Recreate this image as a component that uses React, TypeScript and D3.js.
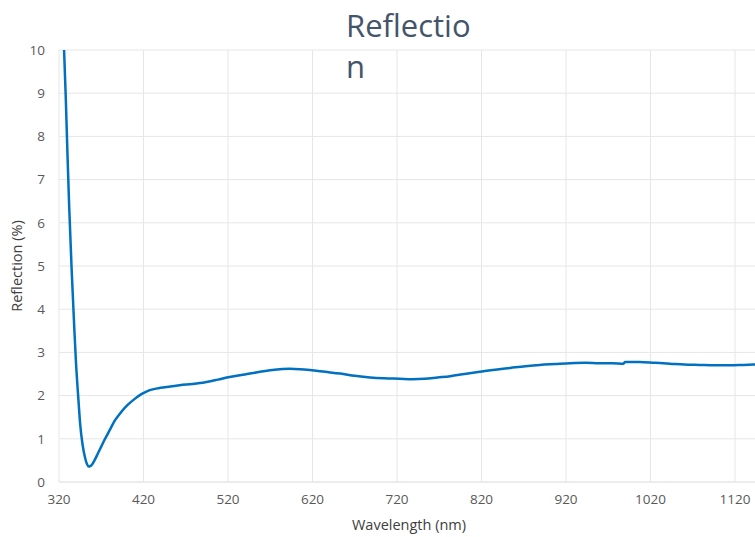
import React, { useEffect, useRef } from 'react';
import * as d3 from 'd3';

// wavelength (nm) and reflection (%)
const wavelengths = [326, 328, 330, 332, 335, 338, 340, 343, 345, 348, 351, 353, 355, 357, 359, 362, 366, 370, 374, 380, 386, 392, 400, 410, 418, 424, 432, 440, 452, 463, 478, 493, 508, 522, 540, 558, 575, 593, 605, 617, 635, 653, 670, 688, 705, 723, 738, 753, 768, 783, 800, 818, 836, 854, 872, 889, 907, 925, 943, 960, 975, 988, 990, 1007, 1025, 1043, 1060, 1078, 1096, 1114, 1130, 1145];
const reflection = [10, 8.9, 7.6, 6.4, 4.9, 3.6, 2.8, 1.9, 1.35, 0.85, 0.55, 0.42, 0.36, 0.37, 0.4, 0.5, 0.66, 0.82, 0.98, 1.2, 1.42, 1.58, 1.76, 1.93, 2.04, 2.1, 2.15, 2.18, 2.21, 2.24, 2.27, 2.31, 2.37, 2.43, 2.49, 2.55, 2.6, 2.62, 2.61, 2.59, 2.55, 2.51, 2.46, 2.42, 2.4, 2.39, 2.38, 2.39, 2.42, 2.45, 2.5, 2.55, 2.6, 2.64, 2.68, 2.71, 2.73, 2.75, 2.76, 2.75, 2.75, 2.74, 2.78, 2.78, 2.76, 2.74, 2.72, 2.71, 2.7, 2.7, 2.71, 2.72];
const xTicks = [320, 420, 520, 620, 720, 820, 920, 1020, 1120];
const yTicks = [0, 1, 2, 3, 4, 5, 6, 7, 8, 9, 10];

const W = 755;
const H = 537;
const font = '"Open Sans", Lato, sans-serif';

export default function App() {
  const ref = useRef<SVGSVGElement>(null);

  useEffect(() => {
    const svg = d3.select(ref.current);
    svg.selectAll('*').remove();

    const left = 59, top = 50, bottom = 482;
    const x = d3.scaleLinear().domain([320, 1120]).range([left, left + 8 * 84.5]);
    const y = d3.scaleLinear().domain([0, 10]).range([bottom, top]);

    // horizontal gridlines
    svg.append('g')
      .selectAll('line')
      .data(yTicks)
      .enter()
      .append('line')
      .attr('x1', left)
      .attr('x2', W)
      .attr('y1', d => y(d))
      .attr('y2', d => y(d))
      .style('stroke', d => (d === 0 ? '#d9d9d9' : '#e6e6e6'))
      .style('stroke-width', 1);

    // vertical gridlines
    svg.append('g')
      .selectAll('line')
      .data(xTicks)
      .enter()
      .append('line')
      .attr('x1', d => x(d))
      .attr('x2', d => x(d))
      .attr('y1', top)
      .attr('y2', bottom)
      .style('stroke', '#e6e6e6')
      .style('stroke-width', 1);

    // y tick labels
    svg.append('g')
      .selectAll('text')
      .data(yTicks)
      .enter()
      .append('text')
      .attr('x', 45)
      .attr('y', d => y(d))
      .attr('dy', '0.35em')
      .attr('text-anchor', 'end')
      .style('font-family', font)
      .style('font-size', '13.5px')
      .style('fill', '#595959')
      .text(d => d);

    // x tick labels
    svg.append('g')
      .selectAll('text')
      .data(xTicks)
      .enter()
      .append('text')
      .attr('x', d => x(d))
      .attr('y', 504)
      .attr('text-anchor', 'middle')
      .style('font-family', font)
      .style('font-size', '13.5px')
      .style('fill', '#595959')
      .text(d => d);

    // the curve
    const pts: [number, number][] = wavelengths.map((w, i) => [w, reflection[i]]);
    const line = d3.line<[number, number]>()
      .x(d => x(d[0]))
      .y(d => y(d[1]))
      .curve(d3.curveMonotoneX);
    svg.append('path')
      .datum(pts)
      .attr('d', line)
      .style('fill', 'none')
      .style('stroke', '#0070c0')
      .style('stroke-width', 2.5)
      .style('stroke-linejoin', 'round');

    // axis titles
    svg.append('text')
      .attr('x', 409)
      .attr('y', 530)
      .attr('text-anchor', 'middle')
      .style('font-family', font)
      .style('font-size', '14.5px')
      .style('fill', '#404040')
      .text('Wavelength (nm)');

    svg.append('text')
      .attr('transform', 'translate(22,266) rotate(-90)')
      .attr('text-anchor', 'middle')
      .style('font-family', font)
      .style('font-size', '14.5px')
      .style('fill', '#404040')
      .text('Reflection (%)');

    // title, wrapped like the original
    const title = svg.append('text')
      .style('font-family', font)
      .style('font-size', '31px')
      .style('fill', '#44546a');
    title.append('tspan').attr('x', 346).attr('y', 37).text('Reflectio');
    title.append('tspan').attr('x', 346).attr('y', 78).text('n');
  }, []);

  return (
    <svg
      ref={ref}
      width={W}
      height={H}
      style={{ position: 'absolute', left: 0, top: 0, background: '#fff' }}
    />
  );
}
